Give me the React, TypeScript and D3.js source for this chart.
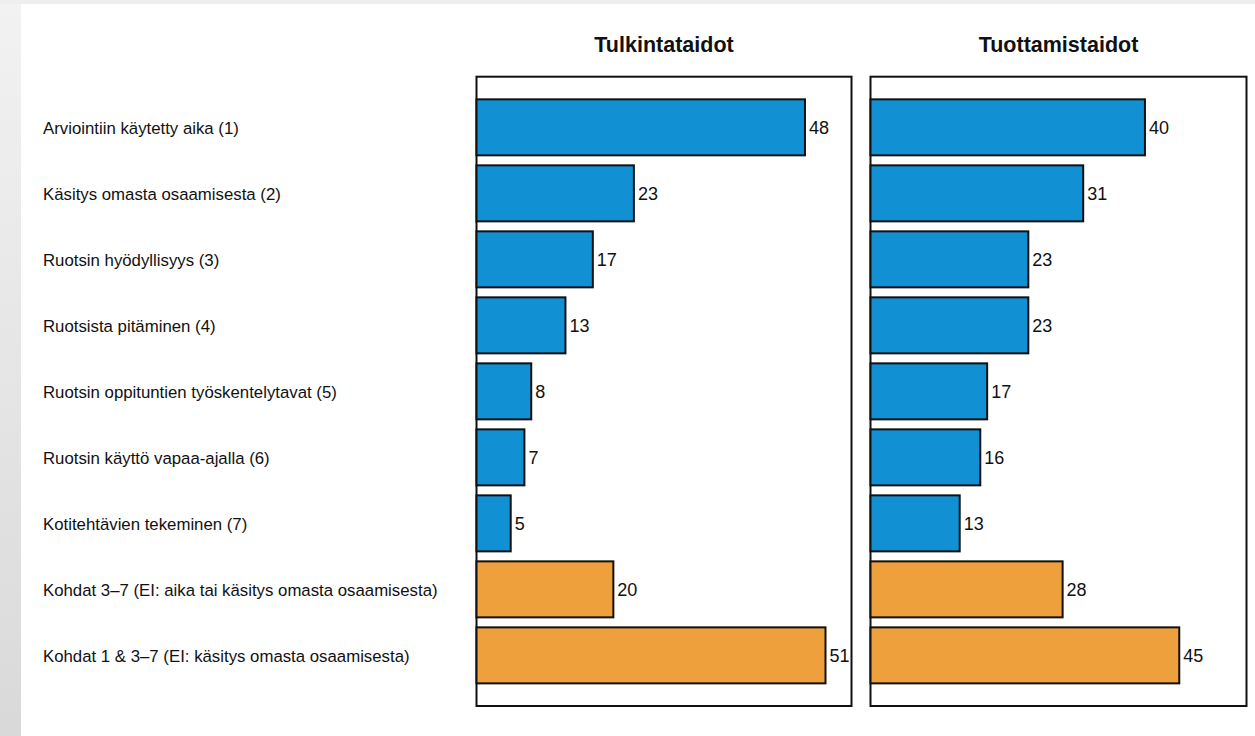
import React from "react";
import * as d3 from "d3";

const categories = [
  "Arviointiin käytetty aika (1)",
  "Käsitys omasta osaamisesta (2)",
  "Ruotsin hyödyllisyys (3)",
  "Ruotsista pitäminen (4)",
  "Ruotsin oppituntien työskentelytavat (5)",
  "Ruotsin käyttö vapaa-ajalla (6)",
  "Kotitehtävien tekeminen (7)",
  "Kohdat 3–7 (EI: aika tai käsitys omasta osaamisesta)",
  "Kohdat 1 & 3–7 (EI: käsitys omasta osaamisesta)",
];
const panelTitles = ["Tulkintataidot", "Tuottamistaidot"];
const tulkintataidot = [48, 23, 17, 13, 8, 7, 5, 20, 51];
const tuottamistaidot = [40, 31, 23, 23, 17, 16, 13, 28, 45];
const groupKind = ["single", "single", "single", "single", "single", "single", "single", "combo", "combo"];

const W = 1255;
const H = 736;
const panelTop = 76.7;
const panelBottom = 706;
const panels = [
  { x0: 476.5, x1: 851.5, values: tulkintataidot, title: panelTitles[0] },
  { x0: 870.5, x1: 1246.5, values: tuottamistaidot, title: panelTitles[1] },
];

export default function App() {
  const y = d3
    .scaleBand<string>()
    .domain(categories)
    .range([panelTop, panelBottom])
    .paddingInner(0.1515)
    .paddingOuter(0.343);

  return (
    <svg
      width={W}
      height={H}
      style={{ position: "absolute", left: 0, top: 0, background: "#fff" }}
      fontFamily="'Liberation Sans', Arial, sans-serif"
    >
      <defs>
        <linearGradient id="leftStrip" x1="0" y1="0" x2="0" y2="1">
          <stop offset="0" stopColor="#f2f2f2" />
          <stop offset="1" stopColor="#d9d9d9" />
        </linearGradient>
      </defs>
      <rect x={0} y={0} width={W} height={H} fill="#fff" />
      <rect x={0} y={0} width={21} height={H} fill="url(#leftStrip)" />
      <rect x={0} y={0} width={W} height={4} fill="#eeeeee" />

      {categories.map((c) => (
        <text
          key={c}
          x={43}
          y={(y(c) as number) + y.bandwidth() / 2}
          dy="0.37em"
          fontSize={16.8}
          fill="#111"
        >
          {c}
        </text>
      ))}

      {panels.map((p, pi) => {
        const x = d3.scaleLinear().domain([0, 54.8]).range([p.x0, p.x1]);
        return (
          <g key={pi}>
            <text
              x={(p.x0 + p.x1) / 2}
              y={52}
              textAnchor="middle"
              fontSize={21.5}
              fontWeight="bold"
              fill="#111"
            >
              {p.title}
            </text>
            <rect
              x={p.x0}
              y={panelTop}
              width={p.x1 - p.x0}
              height={panelBottom - panelTop}
              fill="#fff"
              stroke="#111"
              strokeWidth={2}
            />
            {categories.map((c, i) => {
              const v = p.values[i];
              const by = y(c) as number;
              return (
                <g key={c}>
                  <rect
                    x={x(0)}
                    y={by}
                    width={x(v) - x(0)}
                    height={y.bandwidth()}
                    fill={groupKind[i] === "combo" ? "#eda03c" : "#1191d3"}
                    stroke="#111"
                    strokeWidth={2}
                  />
                  <text
                    x={x(v) + 4}
                    y={by + y.bandwidth() / 2}
                    dy="0.37em"
                    fontSize={18}
                    fill="#111"
                  >
                    {v}
                  </text>
                </g>
              );
            })}
          </g>
        );
      })}
    </svg>
  );
}
